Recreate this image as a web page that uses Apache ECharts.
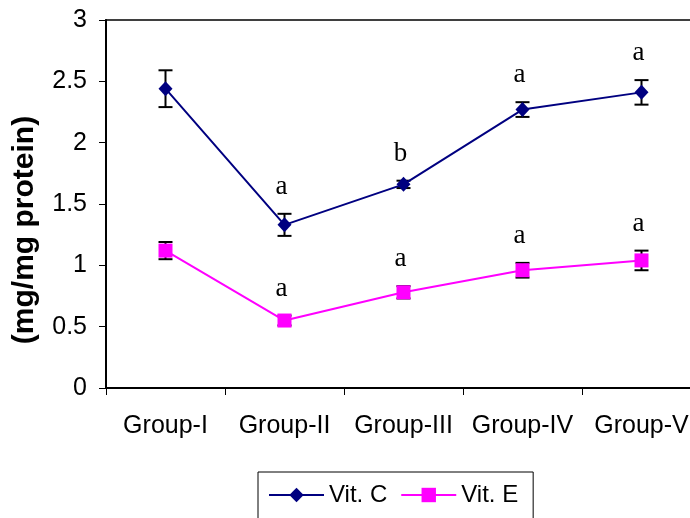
<!DOCTYPE html>
<html>
<head>
<meta charset="utf-8">
<script src="https://cdn.jsdelivr.net/npm/echarts@6/dist/echarts.min.js"></script>
<style>
html,body{margin:0;padding:0;background:#fff;}
#chart{width:690px;height:518px;}
</style>
</head>
<body>
<div id="chart"></div>
<script>
var categories = ['Group-I', 'Group-II', 'Group-III', 'Group-IV', 'Group-V'];
var vitC = [2.44, 1.33, 1.66, 2.27, 2.41];
var vitCErr = [0.15, 0.09, 0.03, 0.06, 0.10];
var vitE = [1.12, 0.55, 0.78, 0.96, 1.04];
var vitEErr = [0.07, 0.04, 0.05, 0.06, 0.08];
var vitCLetters = ['', 'a', 'b', 'a', 'a'];
var vitELetters = ['', 'a', 'a', 'a', 'a'];
var yTicks = [0, 0.5, 1, 1.5, 2, 2.5, 3];

function errData(vals, errs) {
  return vals.map(function (v, i) { return [i, v - errs[i], v + errs[i]]; });
}
function errRenderer(letters) {
  return function (params, api) {
    var i = api.value(0);
    var lo = api.coord([i, api.value(1)]);
    var hi = api.coord([i, api.value(2)]);
    var x = lo[0];
    var cap = 7;
    var s = {stroke: '#000', lineWidth: 2};
    return {
      type: 'group',
      children: [
        {type: 'line', shape: {x1: x, y1: lo[1], x2: x, y2: hi[1]}, style: s},
        {type: 'line', shape: {x1: x - cap, y1: lo[1], x2: x + cap, y2: lo[1]}, style: s},
        {type: 'line', shape: {x1: x - cap, y1: hi[1], x2: x + cap, y2: hi[1]}, style: s},
        {type: 'text', style: {text: letters[params.dataIndex], x: x - 3, y: hi[1] - 27,
          align: 'center', verticalAlign: 'middle', fontSize: 27,
          fontFamily: '"Liberation Serif", serif', fill: '#000'}}
      ]
    };
  };
}

var chart = echarts.init(document.getElementById('chart'));
chart.setOption({
  animation: false,
  backgroundColor: '#fff',
  grid: {left: 106, top: 20, right: -11, bottom: 130, outerBoundsMode: 'none', containLabel: false,
    show: true, borderColor: '#000', borderWidth: 1.5, backgroundColor: 'transparent'},
  legend: {
    data: ['Vit. C', 'Vit. E'],
    left: 258, top: 472,
    padding: [11, 15, 30, 10],
    itemWidth: 55, itemHeight: 18, itemGap: 13,
    borderColor: '#000', borderWidth: 1, backgroundColor: '#fff',
    textStyle: {fontFamily: '"Liberation Sans", Arial, sans-serif', fontSize: 24, color: '#000'}
  },
  xAxis: {
    type: 'category', data: categories, boundaryGap: true,
    axisLine: {lineStyle: {color: '#000', width: 2}},
    axisTick: {show: true, length: 7, lineStyle: {color: '#000', width: 1}},
    axisLabel: {interval: 0, margin: 26, color: '#000', fontSize: 25, fontFamily: '"Liberation Sans", Arial, sans-serif'},
    splitLine: {show: false}
  },
  yAxis: {
    type: 'value', min: 0, max: 3, interval: 0.5,
    name: '(mg/mg protein)', nameLocation: 'middle', nameGap: 66, nameRotate: 90,
    nameTextStyle: {fontFamily: '"Liberation Sans", Arial, sans-serif', fontSize: 30, fontWeight: 'bold', color: '#000', padding: [0, 52, 0, 0]},
    axisLine: {show: true, lineStyle: {color: '#000', width: 2}},
    axisTick: {show: true, length: 7, lineStyle: {color: '#000', width: 1}},
    axisLabel: {margin: 19, color: '#000', fontSize: 25, fontFamily: '"Liberation Sans", Arial, sans-serif',
      formatter: function (v) { return yTicks.indexOf(v) >= 0 ? String(v) : ''; }},
    splitLine: {show: false}
  },
  series: [
    {type: 'custom', name: 'errC', z: 1, data: errData(vitC, vitCErr), encode: {x: 0, y: [1, 2]}, renderItem: errRenderer(vitCLetters)},
    {type: 'custom', name: 'errE', z: 1, data: errData(vitE, vitEErr), encode: {x: 0, y: [1, 2]}, renderItem: errRenderer(vitELetters)},
    {type: 'line', name: 'Vit. C', data: vitC, z: 3, symbol: 'diamond', symbolSize: [14, 15],
      itemStyle: {color: '#000080'}, lineStyle: {color: '#000080', width: 2}},
    {type: 'line', name: 'Vit. E', data: vitE, z: 3, symbol: 'rect', symbolSize: 14,
      itemStyle: {color: '#FF00FF'}, lineStyle: {color: '#FF00FF', width: 2}}
  ]
});
</script>
</body>
</html>
